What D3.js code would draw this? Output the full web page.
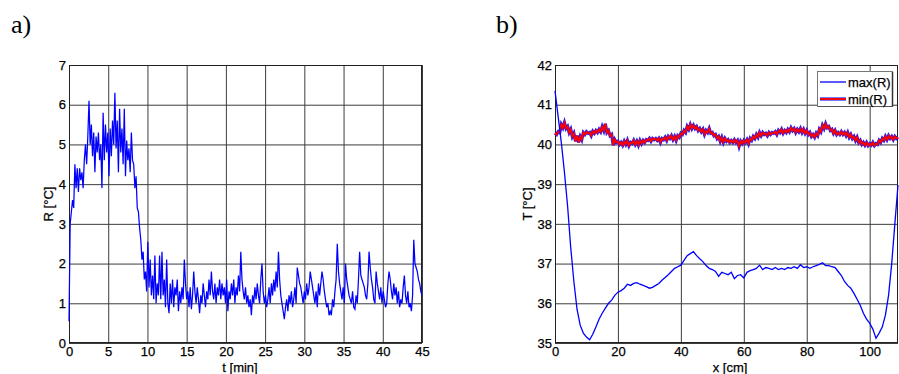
<!DOCTYPE html>
<html>
<head>
<meta charset="utf-8">
<script src="https://cdn.jsdelivr.net/npm/d3@7"></script>
<style>
  body { margin: 0; background: #fff; }
  svg { display: block; }
  text { font-family: "Liberation Sans", Arial, Helvetica, sans-serif; }
  .lbl { font-size: 13px; fill: #000; stroke: #000; stroke-width: 0.25px; }
  text.panel { font-family: "Liberation Serif", "Times New Roman", serif; font-size: 26px; }
</style>
</head>
<body>
<svg id="fig" width="899" height="374"></svg>
<script>
// ---- panel a: temperature range R over time, sampled every 0.15 min ----
const tStep = 0.15;
const rangeR = [
  0.55, 3.0, 3.3, 3.6, 3.4, 4.5, 3.9, 4.4, 3.8, 4.4, 4.1, 4.3, 3.9, 4.6,
  5.0, 4.5, 5.2, 6.1, 5.0, 5.5, 4.7, 5.3, 4.3, 5.2, 4.8, 5.3, 4.6, 5.0, 3.9, 5.8,
  4.6, 5.5, 4.8, 5.3, 4.2, 5.4, 4.7, 5.6, 5.0, 6.3, 4.9, 5.6, 4.3, 5.9, 4.8, 5.4,
  4.5, 5.9, 4.2, 5.1, 4.6, 4.9, 4.3, 5.3, 4.6, 4.5, 3.9, 4.2, 3.4, 3.3, 2.9, 2.6,
  2.1, 2.3, 1.6, 1.8, 1.3, 2.55, 1.4, 2.1, 1.2, 1.7, 1.1, 2.2, 1.0, 1.5, 1.2, 2.2,
  1.1, 2.3, 1.2, 1.6, 0.9, 2.1, 1.0, 0.75, 1.5, 1.0, 1.6, 0.9, 1.4, 1.2, 1.6, 0.8,
  1.3, 1.0, 1.4, 1.1, 2.1, 1.5, 1.1, 1.3, 0.9, 1.4, 0.85, 1.2, 1.8, 1.3, 1.0, 1.4,
  1.1, 0.75, 1.2, 1.0, 1.5, 1.2, 0.9, 1.3, 1.1, 1.6, 1.2, 1.8, 1.3, 1.1, 1.5, 1.0,
  1.4, 1.2, 1.6, 1.1, 1.5, 1.2, 1.4, 1.0, 1.6, 0.8, 1.3, 1.1, 1.5, 1.2, 1.6, 1.0,
  1.4, 1.2, 1.7, 1.3, 2.3, 1.6, 1.3, 1.1, 1.4, 1.0, 1.2, 0.9, 1.1, 0.7, 1.2, 1.0,
  1.4, 1.1, 1.5, 1.2, 1.0, 1.6, 2.0, 1.3, 1.0, 1.2, 0.9, 1.1, 1.4, 1.0, 1.5, 1.2,
  1.6, 1.3, 1.8, 1.4, 2.3, 1.6, 1.2, 1.0, 0.8, 0.6, 0.9, 1.1, 0.8, 1.2, 1.0, 1.3,
  0.9, 1.1, 1.4, 1.0, 1.9, 1.7, 1.5, 1.4, 1.2, 1.0, 1.3, 1.1, 1.5, 1.2, 1.4, 1.8,
  1.6, 1.4, 1.2, 1.0, 1.3, 0.9, 1.5, 1.2, 1.5, 1.8, 1.6, 1.3, 1.1, 0.9, 1.0, 0.7,
  0.8, 0.7, 1.1, 0.9, 1.3, 1.6, 2.5, 1.8, 1.5, 1.3, 1.1, 1.4, 1.0, 2.0, 1.6, 1.4,
  1.2, 1.1, 1.0, 1.3, 0.9, 0.85, 1.2, 1.0, 1.6, 2.3, 1.7, 1.6, 1.5, 1.4, 1.2, 1.1,
  1.5, 2.3, 1.9, 1.6, 1.4, 1.1, 1.0, 1.8, 1.5, 1.3, 1.1, 1.4, 1.0, 1.3, 1.1, 0.9,
  1.0, 1.5, 1.8, 1.6, 1.3, 1.1, 1.5, 1.2, 1.4, 1.0, 1.3, 0.9, 1.1, 1.0, 1.4, 1.7,
  1.2, 1.0, 1.3, 0.9, 1.0, 0.8, 1.2, 2.6, 2.0, 1.9, 1.8, 1.6, 1.5, 1.3, 1.2
];
const tTicks = [0, 5, 10, 15, 20, 25, 30, 35, 40, 45];
const rTicks = [0, 1, 2, 3, 4, 5, 6, 7];

// ---- panel b: temperature profiles along x ----
const maxStep = 1;      // cm between max(R) samples
const maxRProfile = [
  41.35, 40.7, 40.05, 39.3, 38.45, 37.4, 36.55, 35.85, 35.45, 35.25,
  35.15, 35.08, 35.22, 35.4, 35.6, 35.75, 35.88, 36.0, 36.08, 36.2,
  36.28, 36.32, 36.38, 36.48, 36.45, 36.5, 36.52, 36.48, 36.45, 36.42,
  36.38, 36.4, 36.45, 36.5, 36.58, 36.65, 36.72, 36.8, 36.88, 36.92,
  36.96, 37.08, 37.2, 37.25, 37.3, 37.2, 37.12, 37.05, 36.95, 36.88,
  36.85, 36.8, 36.68, 36.78, 36.75, 36.72, 36.78, 36.62, 36.7, 36.72,
  36.64, 36.78, 36.82, 36.85, 36.88, 36.96, 36.85, 36.9, 36.88, 36.85,
  36.9, 36.85, 36.88, 36.85, 36.9, 36.88, 36.92, 36.88, 36.97, 36.9,
  36.92, 36.88, 36.92, 36.95, 36.98, 37.02, 36.95, 36.95, 36.92, 36.9,
  36.8, 36.7, 36.55, 36.45, 36.38, 36.25, 36.1, 35.95, 35.75, 35.6,
  35.5, 35.35, 35.12, 35.25, 35.4, 35.7, 36.2, 37.0, 38.0, 38.98
];
const minStep = 0.5;    // cm between min(R) samples
const minRProfile = [
  40.28, 40.25, 40.32, 40.3, 40.5, 40.42, 40.55, 40.4, 40.45, 40.3,
  40.38, 40.2, 40.28, 40.08, 40.22, 40.05, 40.2, 40.12, 40.3, 40.25,
  40.32, 40.28, 40.3, 40.22, 40.33, 40.28, 40.35, 40.3, 40.38, 40.32,
  40.45, 40.35, 40.52, 40.3, 40.35, 40.22, 40.25, 39.98, 40.12, 40.05,
  40.08, 40.0, 40.05, 39.98, 40.08, 40.0, 40.1, 39.97, 40.05, 40.02,
  40.1, 40.0, 40.08, 39.98, 40.1, 40.02, 40.1, 40.05, 40.12, 40.1,
  40.15, 40.08, 40.15, 40.12, 40.15, 40.1, 40.15, 40.05, 40.15, 40.12,
  40.18, 40.1, 40.2, 40.15, 40.22, 40.12, 40.2, 40.1, 40.22, 40.18,
  40.28, 40.25, 40.35, 40.3, 40.45, 40.38, 40.5, 40.4, 40.48, 40.4,
  40.45, 40.35, 40.4, 40.32, 40.38, 40.25, 40.35, 40.3, 40.4, 40.28,
  40.3, 40.22, 40.25, 40.15, 40.2, 40.08, 40.18, 40.05, 40.15, 40.08,
  40.12, 40.05, 40.1, 40.05, 40.12, 40.05, 40.1, 39.95, 40.08, 40.02,
  40.1, 40.05, 40.12, 40.02, 40.15, 40.1, 40.2, 40.15, 40.25, 40.18,
  40.3, 40.22, 40.3, 40.25, 40.28, 40.22, 40.3, 40.25, 40.3, 40.28,
  40.32, 40.25, 40.35, 40.3, 40.38, 40.28, 40.35, 40.3, 40.38, 40.32,
  40.42, 40.35, 40.4, 40.3, 40.38, 40.32, 40.4, 40.3, 40.38, 40.28,
  40.35, 40.25, 40.3, 40.2, 40.25, 40.18, 40.28, 40.22, 40.38, 40.32,
  40.48, 40.4, 40.52, 40.42, 40.45, 40.35, 40.38, 40.28, 40.35, 40.25,
  40.3, 40.25, 40.32, 40.25, 40.3, 40.22, 40.3, 40.18, 40.25, 40.15,
  40.2, 40.1, 40.18, 40.05, 40.1, 40.0, 40.05, 39.98, 40.05, 39.97,
  40.02, 39.98, 40.05, 39.97, 40.02, 40.0, 40.1, 40.05, 40.15, 40.1,
  40.2, 40.12, 40.22, 40.15, 40.2, 40.12, 40.2, 40.15, 40.18
];
const xTicks = [0, 20, 40, 60, 80, 100];
const TTicks = [35, 36, 37, 38, 39, 40, 41, 42];
const legendLabels = ["max(R)", "min(R)"];

const svg = d3.select("#fig");
const plotTop = 65, plotBottom = 343;

function frame(left, right, xDomain, yDomain, xTickVals, yTickVals) {
  const x = d3.scaleLinear().domain(xDomain).range([left, right]);
  const y = d3.scaleLinear().domain(yDomain).range([plotBottom, plotTop]);
  const g = svg.append("g");
  const h = plotBottom - plotTop, w = right - left;

  g.append("rect").attr("x", left).attr("y", plotTop).attr("width", w).attr("height", h)
    .attr("fill", "#fff");

  const xa = g.append("g").attr("transform", `translate(0,${plotBottom})`)
    .call(d3.axisBottom(x).tickValues(xTickVals).tickSize(-h).tickPadding(4)
      .tickFormat(d3.format("d")));
  const ya = g.append("g").attr("transform", `translate(${left},0)`)
    .call(d3.axisLeft(y).tickValues(yTickVals).tickSize(-w).tickPadding(3)
      .tickFormat(d3.format("d")));
  [xa, ya].forEach(a => {
    a.select(".domain").remove();
    a.selectAll(".tick line").attr("stroke", "#3c3c3c").attr("stroke-width", 1);
    a.selectAll(".tick text").attr("class", "lbl").attr("font-size", null);
  });

  g.append("rect").attr("x", left + 0.5).attr("y", plotTop + 0.5)
    .attr("width", w - 1).attr("height", h - 1)
    .attr("fill", "none").attr("stroke", "#222").attr("stroke-width", 1);
  return { x, y, g };
}

// ---- panel a ----
const pa = frame(69, 422, [0, 45], [0, 7], tTicks, rTicks);
const lineA = d3.line().x((d, i) => pa.x(i * tStep)).y(d => pa.y(d));
pa.g.append("path").datum(rangeR).attr("d", lineA)
  .attr("fill", "none").attr("stroke", "#0000ff").attr("stroke-width", 1.25)
  .attr("stroke-linejoin", "miter");

svg.append("text").attr("class", "lbl").attr("x", 240).attr("y", 371.5)
  .attr("text-anchor", "middle").text("t [min]");
svg.append("text").attr("class", "lbl").attr("transform", "translate(53,204) rotate(-90)")
  .attr("text-anchor", "middle").text("R [°C]");
svg.append("text").attr("class", "panel").attr("x", 11).attr("y", 33).text("a)");

// ---- panel b ----
const pb = frame(555, 898, [0, 109], [35, 42], xTicks, TTicks);
const lineMax = d3.line().x((d, i) => pb.x(i * maxStep)).y(d => pb.y(d));
const lineMin = d3.line().x((d, i) => pb.x(i * minStep)).y(d => pb.y(d));

pb.g.append("path").datum(minRProfile).attr("d", lineMin)
  .attr("fill", "none").attr("stroke", "#1a1aff").attr("stroke-width", 3.2);
pb.g.append("path").datum(minRProfile).attr("d", lineMin)
  .attr("fill", "none").attr("stroke", "#ff0000").attr("stroke-width", 1.9);
pb.g.append("path").datum(maxRProfile).attr("d", lineMax)
  .attr("fill", "none").attr("stroke", "#0000ff").attr("stroke-width", 1.3);

svg.append("text").attr("class", "lbl").attr("x", 730).attr("y", 371.5)
  .attr("text-anchor", "middle").text("x [cm]");
svg.append("text").attr("class", "lbl").attr("transform", "translate(532,204) rotate(-90)")
  .attr("text-anchor", "middle").text("T [°C]");
svg.append("text").attr("class", "panel").attr("x", 496).attr("y", 33).text("b)");

// legend
const lg = svg.append("g");
lg.append("rect").attr("x", 817.5).attr("y", 71.5).attr("width", 75).attr("height", 35)
  .attr("fill", "#fff").attr("stroke", "#777").attr("stroke-width", 1);
lg.append("line").attr("x1", 892.5).attr("x2", 892.5).attr("y1", 72).attr("y2", 107)
  .attr("stroke", "#333").attr("stroke-width", 1.5);
lg.append("line").attr("x1", 818).attr("x2", 893).attr("y1", 106.5).attr("y2", 106.5)
  .attr("stroke", "#555").attr("stroke-width", 1);
const rowY = [82, 99];
lg.append("line").attr("x1", 820).attr("x2", 846).attr("y1", rowY[0]).attr("y2", rowY[0])
  .attr("stroke", "#0000ff").attr("stroke-width", 1.3);
lg.append("line").attr("x1", 820).attr("x2", 846).attr("y1", rowY[1]).attr("y2", rowY[1])
  .attr("stroke", "#1a1aff").attr("stroke-width", 3.2);
lg.append("line").attr("x1", 820).attr("x2", 846).attr("y1", rowY[1]).attr("y2", rowY[1])
  .attr("stroke", "#ff0000").attr("stroke-width", 1.9);
legendLabels.forEach((t, i) => {
  lg.append("text").attr("class", "lbl").attr("x", 848).attr("y", rowY[i] + 4.5).text(t);
});
</script>
</body>
</html>
